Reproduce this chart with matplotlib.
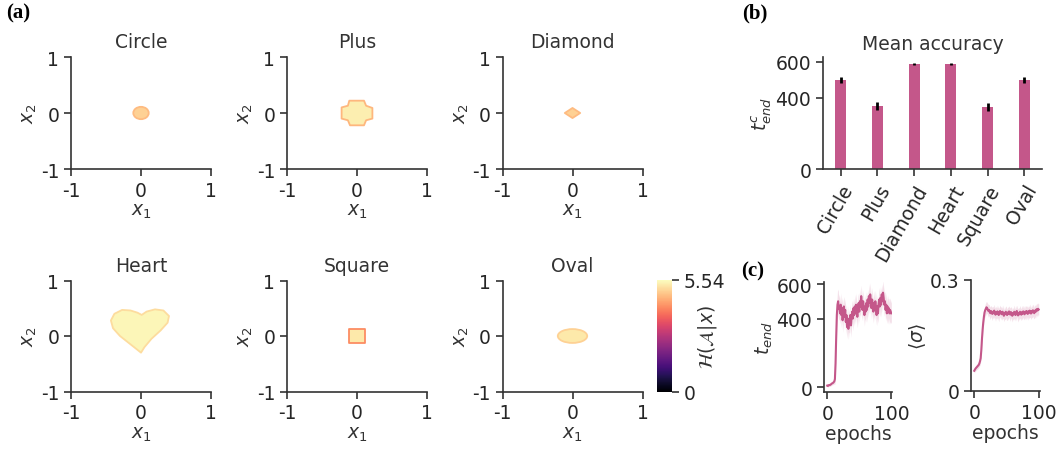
import matplotlib
matplotlib.use('Agg')
import numpy as np
import matplotlib.pyplot as plt
from matplotlib.patches import Ellipse, Polygon
from matplotlib.colors import Normalize
from matplotlib.cm import ScalarMappable

# ---- data -------------------------------------------------------------
shape_names = ['Circle', 'Plus', 'Diamond', 'Heart', 'Square', 'Oval']

# outlines of the regions where the policy is sampled (data coords)
ellipse_sizes = {'Circle': (0.22, 0.22), 'Oval': (0.42, 0.25)}
polygon_verts = {
    'Plus': [(-0.22, -0.10), (-0.22, 0.10), (-0.13, 0.13), (-0.11, 0.22),
             (0.10, 0.22), (0.13, 0.13), (0.22, 0.09), (0.22, -0.10),
             (0.13, -0.13), (0.10, -0.22), (-0.10, -0.22), (-0.13, -0.13)],
    'Diamond': [(-0.11, 0.0), (0.0, 0.09), (0.11, 0.0), (0.0, -0.09)],
    'Heart': [(0.0, -0.30), (-0.15, -0.15), (-0.30, 0.0), (-0.40, 0.14),
              (-0.43, 0.28), (-0.38, 0.40), (-0.27, 0.47), (-0.15, 0.46),
              (-0.05, 0.42), (0.01, 0.38), (0.08, 0.44), (0.20, 0.48),
              (0.32, 0.46), (0.40, 0.36), (0.38, 0.24), (0.28, 0.10),
              (0.15, -0.05), (0.05, -0.20)],
    'Square': [(-0.12, -0.12), (-0.12, 0.12), (0.12, 0.12), (0.12, -0.12)],
}
entropy_inner = [5.0, 5.35, 5.0, 5.45, 5.3, 5.3]
entropy_edge = [4.75, 4.7, 4.75, 5.15, 4.2, 5.0]
entropy_max = 5.54

mean_acc = [500, 352, 590, 590, 348, 500]
mean_acc_err = [18, 22, 6, 6, 22, 16]

epochs = list(range(101))
t_end = [10, 8, 12, 14, 13, 16, 18, 22, 24, 26, 30, 34, 48,
         140, 290, 420, 480, 500, 455, 470, 430, 480, 420, 460, 390,
         440, 470, 410, 450, 380, 420, 350, 400, 340, 390, 370, 420,
         360, 410, 440, 400, 460, 420, 470, 430, 480, 440, 410, 460,
         490, 440, 500, 470, 530, 480, 450, 500, 460, 420, 470, 440,
         490, 450, 510, 470, 530, 490, 540, 500, 460, 510, 470, 440,
         490, 450, 500, 460, 420, 470, 430, 480, 510, 470, 520, 480,
         540, 500, 550, 520, 480, 500, 450, 480, 430, 470, 440, 460,
         430, 450, 440, 430]
t_end_sd = [6, 6, 7, 7, 8, 8, 9, 9, 10, 10, 12, 14, 30,
            60, 70, 75, 80, 70, 65, 72, 60, 68, 74, 62, 70,
            66, 58, 72, 64, 70, 60, 66, 74, 62, 68, 56, 64,
            70, 60, 66, 72, 58, 64, 70, 62, 68, 56, 64, 70,
            60, 66, 72, 58, 64, 70, 62, 68, 56, 64, 70, 60,
            66, 72, 58, 64, 70, 62, 68, 56, 64, 70, 60, 66,
            72, 58, 64, 70, 62, 68, 56, 64, 70, 60, 66, 72,
            58, 64, 70, 62, 68, 56, 64, 70, 60, 66, 72, 58,
            64, 70, 62, 60]
sigma = [0.054, 0.057, 0.060, 0.062, 0.064, 0.066, 0.068, 0.070, 0.074,
         0.080, 0.088, 0.110, 0.140, 0.165, 0.185, 0.200, 0.212, 0.218,
         0.222, 0.226, 0.224, 0.220, 0.216, 0.219, 0.213, 0.210, 0.216,
         0.212, 0.208, 0.214, 0.210, 0.217, 0.211, 0.206, 0.213, 0.209,
         0.215, 0.210, 0.205, 0.212, 0.216, 0.209, 0.213, 0.207, 0.214,
         0.210, 0.203, 0.211, 0.207, 0.214, 0.209, 0.205, 0.212, 0.208,
         0.215, 0.210, 0.206, 0.213, 0.209, 0.203, 0.210, 0.207, 0.214,
         0.209, 0.205, 0.212, 0.216, 0.208, 0.204, 0.211, 0.207, 0.214,
         0.210, 0.206, 0.213, 0.209, 0.215, 0.211, 0.207, 0.214, 0.210,
         0.216, 0.212, 0.208, 0.215, 0.211, 0.217, 0.213, 0.209, 0.216,
         0.212, 0.218, 0.214, 0.210, 0.217, 0.213, 0.219, 0.221, 0.217,
         0.222, 0.220]
sigma_sd = [0.006, 0.006, 0.007, 0.007, 0.007, 0.008, 0.008, 0.008, 0.009,
            0.010, 0.010, 0.012, 0.014, 0.015, 0.015, 0.016, 0.016, 0.016,
            0.017, 0.016, 0.015, 0.016, 0.017, 0.015, 0.016, 0.017, 0.015,
            0.016, 0.018, 0.015, 0.016, 0.017, 0.015, 0.018, 0.016, 0.015,
            0.017, 0.016, 0.018, 0.015, 0.016, 0.017, 0.015, 0.016, 0.018,
            0.015, 0.016, 0.017, 0.015, 0.016, 0.018, 0.015, 0.016, 0.017,
            0.015, 0.016, 0.018, 0.015, 0.016, 0.017, 0.015, 0.016, 0.018,
            0.015, 0.016, 0.017, 0.015, 0.016, 0.018, 0.015, 0.016, 0.017,
            0.015, 0.016, 0.018, 0.015, 0.016, 0.017, 0.015, 0.016, 0.018,
            0.015, 0.016, 0.017, 0.015, 0.016, 0.018, 0.015, 0.016, 0.017,
            0.015, 0.016, 0.018, 0.015, 0.016, 0.017, 0.015, 0.016, 0.017,
            0.016, 0.015]

# ---- style ------------------------------------------------------------
ink = '#333333'
pink = '#c4578a'
plt.rcParams.update({
    'font.family': ['DejaVu Sans'],
    'font.size': 13.5,
    'mathtext.fontset': 'dejavusans',
    'axes.unicode_minus': False,
    'axes.edgecolor': ink,
    'axes.linewidth': 1.2,
    'axes.labelcolor': ink,
    'text.color': ink,
    'xtick.color': ink,
    'ytick.color': ink,
    'xtick.labelcolor': '#262626',
    'ytick.labelcolor': '#262626',
    'xtick.major.size': 5,
    'ytick.major.size': 5,
    'xtick.major.width': 1.2,
    'ytick.major.width': 1.2,
    'axes.spines.top': False,
    'axes.spines.right': False,
})

W, H = 1058, 452


def px_axes(fig, x0, y0, x1, y1):
    return fig.add_axes([x0 / W, 1 - y1 / H, (x1 - x0) / W, (y1 - y0) / H])


fig = plt.figure(figsize=(W / 100, H / 100), dpi=100)
cmap = plt.get_cmap('magma')
norm = Normalize(0, entropy_max)

# ---- (a) entropy maps --------------------------------------------------
cols = [(71, 211), (287, 427), (502.5, 642.5)]
rows = [(58, 170), (281.5, 392.5)]
for i, name in enumerate(shape_names):
    r, c = divmod(i, 3)
    ax = px_axes(fig, cols[c][0], rows[r][0], cols[c][1], rows[r][1])
    face = cmap(norm(entropy_inner[i]))
    edge = cmap(norm(entropy_edge[i]))
    if name in ellipse_sizes:
        w, h = ellipse_sizes[name]
        patch = Ellipse((0, 0), w, h, facecolor=face, edgecolor=edge, lw=1.3)
    else:
        patch = Polygon(polygon_verts[name], closed=True, facecolor=face,
                        edgecolor=edge, lw=1.3, joinstyle='round')
    ax.add_patch(patch)
    ax.set_xlim(-1, 1)
    ax.set_ylim(-1, 1)
    ax.set_xticks([-1, 0, 1])
    ax.set_yticks([-1, 0, 1])
    ax.set_title(name, fontsize=13.5, pad=7)
    ax.set_xlabel('$x_1$', labelpad=1)
    ax.set_ylabel('$x_2$', labelpad=1)

cax = px_axes(fig, 657, 281, 672, 393)
cb = fig.colorbar(ScalarMappable(norm=norm, cmap=cmap), cax=cax,
                  ticks=[0, entropy_max])
cb.ax.set_yticklabels(['0', '5.54'])
cb.outline.set_visible(False)
cb.set_label(r'$\mathcal{H}(\mathcal{A}|x)$', labelpad=-21)

# ---- (b) mean accuracy -------------------------------------------------
axb = px_axes(fig, 823, 58, 1042, 170)
xb = np.arange(len(shape_names))
axb.bar(xb, mean_acc, width=0.3, color=pink)
axb.errorbar(xb, mean_acc, yerr=mean_acc_err, fmt='none', ecolor='black',
             elinewidth=2, capsize=0)
axb.set_xlim(-0.48, 5.48)
axb.set_ylim(0, 628)
axb.set_yticks([0, 400, 600])
axb.set_xticks(xb)
axb.set_xticklabels(shape_names, rotation=60, ha='right',
                    rotation_mode='anchor')
axb.set_title('Mean accuracy', fontsize=13.5, pad=6)
axb.set_ylabel(r'$t^c_{end}$', labelpad=1)

# ---- (c) training curves -----------------------------------------------
ep = np.array(epochs)
axc1 = px_axes(fig, 824, 283, 892, 392.7)
m1, s1 = np.array(t_end), np.array(t_end_sd)
axc1.fill_between(ep, m1 - s1, m1 + s1, color=pink, alpha=0.18, lw=0)
axc1.plot(ep, m1, color=pink, lw=1.5)
axc1.set_xlim(-5, 101)
axc1.set_ylim(-25, 612)
axc1.set_yticks([0, 400, 600])
axc1.set_xticks([0, 100])
axc1.set_xlabel('epochs', labelpad=1)
axc1.set_ylabel(r'$t_{end}$', labelpad=1)

axc2 = px_axes(fig, 971, 281, 1040, 391.7)
m2, s2 = np.array(sigma), np.array(sigma_sd)
axc2.fill_between(ep, m2 - s2, m2 + s2, color=pink, alpha=0.18, lw=0)
axc2.plot(ep, m2, color=pink, lw=1.5)
axc2.set_xlim(-5, 102)
axc2.set_ylim(0, 0.3)
axc2.set_yticks([0, 0.3])
axc2.set_yticklabels(['0', '0.3'])
axc2.set_xticks([0, 100])
axc2.set_xlabel('epochs', labelpad=1)
axc2.set_ylabel(r'$\langle\sigma\rangle$', labelpad=1)

# ---- panel letters -----------------------------------------------------
for lab, x, y in [('(a)', 6, 3), ('(b)', 742, 3), ('(c)', 741, 261)]:
    fig.text(x / W, 1 - y / H, lab, fontsize=15, fontweight='bold',
             family=['Liberation Serif', 'DejaVu Serif'], va='top',
             color='black')

fig.savefig('out.png', dpi=100)
